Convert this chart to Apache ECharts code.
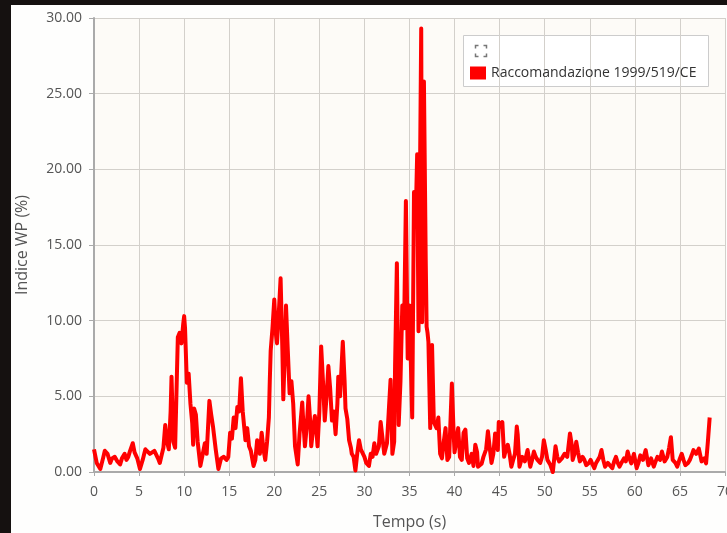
<!DOCTYPE html>
<html>
<head>
<meta charset="utf-8">
<script src="https://cdn.jsdelivr.net/npm/echarts@6/dist/echarts.min.js"></script>
<style>
html,body{margin:0;padding:0;background:#151110;width:727px;height:533px;overflow:hidden;}
#panel{position:absolute;left:11px;top:5px;width:716px;height:528px;background:#fefefd;}
#chart{position:absolute;left:0;top:0;width:727px;height:533px;}
</style>
</head>
<body>
<div id="panel"></div>
<div id="chart"></div>
<script>
// time (s)
const tempo = [0,0.3,0.7,1.0,1.2,1.5,1.8,2.0,2.3,2.6,2.9,3.1,3.4,3.6,3.8,4.0,4.3,4.5,4.8,5.1,5.4,5.7,5.9,6.2,6.4,6.7,6.9,7.1,7.3,7.5,7.7,7.9,8.1,8.3,8.5,8.6,8.8,9.0,9.2,9.3,9.5,9.7,9.9,10.0,10.1,10.3,10.5,10.7,10.9,11.0,11.1,11.3,11.5,11.8,12.0,12.3,12.5,12.8,13.0,13.2,13.5,13.8,14.1,14.4,14.7,14.9,15.1,15.3,15.5,15.7,15.9,16.1,16.3,16.5,16.8,17.0,17.2,17.4,17.7,17.9,18.1,18.2,18.4,18.6,18.8,19.0,19.2,19.4,19.5,19.6,19.8,20.0,20.2,20.3,20.5,20.7,20.9,21.0,21.2,21.3,21.5,21.7,21.9,22.1,22.3,22.6,22.8,23.1,23.2,23.4,23.6,23.8,24.0,24.1,24.3,24.5,24.7,24.8,25.0,25.2,25.4,25.6,25.8,26.0,26.2,26.4,26.6,26.8,27.0,27.1,27.3,27.6,27.8,27.9,28.1,28.3,28.5,28.6,28.8,29.0,29.2,29.4,29.6,29.8,30.0,30.2,30.5,30.7,30.9,31.1,31.3,31.6,31.8,32.0,32.2,32.5,32.7,32.9,33.1,33.3,33.4,33.6,33.8,34.0,34.2,34.4,34.6,34.8,35.0,35.2,35.3,35.5,35.7,35.85,36.0,36.1,36.3,36.4,36.5,36.6,36.8,36.9,37.0,37.1,37.3,37.5,37.6,37.7,38.0,38.2,38.4,38.6,38.8,39.0,39.2,39.4,39.7,39.9,40.0,40.2,40.4,40.6,40.8,41.0,41.2,41.4,41.6,41.9,42.1,42.3,42.5,42.6,43.0,43.2,43.5,43.7,43.9,44.1,44.3,44.5,44.7,44.8,44.9,45.1,45.3,45.5,45.7,45.9,46.1,46.3,46.5,46.7,46.9,47.0,47.2,47.5,47.8,48.1,48.4,48.6,48.8,49.0,49.2,49.5,49.7,49.9,50.1,50.3,50.6,50.9,51.2,51.4,51.6,51.9,52.2,52.5,52.8,53.0,53.1,53.3,53.5,53.7,53.9,54.2,54.4,54.6,54.9,55.1,55.3,55.5,55.7,55.9,56.1,56.3,56.5,56.7,57.0,57.2,57.5,57.7,57.9,58.1,58.3,58.6,58.8,59.0,59.2,59.4,59.6,59.9,60.2,60.4,60.6,60.9,61.2,61.5,61.8,62.1,62.3,62.5,62.8,63.0,63.3,63.6,63.8,64.0,64.2,64.5,64.7,65.0,65.2,65.4,65.6,65.9,66.1,66.3,66.5,66.8,67.1,67.4,67.7,67.9,68.1,68.3];
// Indice WP (%)
const indiceWP = [1.5,0.6,0.2,0.9,1.4,1.2,0.6,0.9,1.0,0.7,0.5,0.9,1.2,0.8,1.0,1.4,1.9,1.3,0.9,0.2,0.8,1.5,1.4,1.2,1.1,1.4,1.3,0.9,0.6,1.1,1.6,3.1,2.0,1.5,4.0,6.3,2.0,1.6,6.5,8.9,9.2,8.5,9.8,10.3,9.5,5.9,6.5,4.5,3.2,1.8,4.2,3.8,2.0,0.4,1.0,1.9,1.2,4.7,3.8,3.0,1.5,0.2,0.9,1.0,0.8,1.0,2.6,2.2,3.6,2.9,4.3,4.0,6.2,4.0,2.1,2.9,1.7,1.4,0.4,0.8,2.1,1.7,1.2,2.6,1.5,0.8,2.0,3.6,6.0,8.0,9.5,11.4,9.0,8.5,10.5,12.8,8.0,4.8,8.5,11.0,8.0,5.2,6.0,4.5,1.7,0.5,2.5,4.6,3.5,1.7,3.0,5.0,3.2,1.7,2.8,3.7,2.5,1.7,4.0,8.3,6.0,3.4,5.0,7.0,5.5,3.4,4.0,2.5,4.5,6.3,5.0,8.6,6.0,4.2,3.5,2.1,1.6,1.2,1.0,0.1,1.2,2.1,1.5,1.4,1.0,0.6,0.4,1.2,1.0,1.9,1.2,1.7,3.3,3.4,1.2,1.9,4.0,6.1,1.2,2.0,7.0,13.8,3.1,6.0,11.0,9.5,17.9,7.5,11.0,6.0,3.6,18.5,17.0,21.0,9.3,15.0,29.3,9.9,15.0,25.8,14.0,9.6,9.2,8.6,2.9,8.4,8.5,3.3,2.9,3.6,1.2,0.9,2.0,2.9,0.8,1.0,5.85,2.5,1.3,1.2,2.9,1.0,0.8,2.6,2.8,0.9,0.6,1.2,0.4,1.8,1.3,0.35,0.55,1.0,1.5,2.7,1.6,0.6,1.2,2.55,1.8,1.45,3.3,3.0,3.3,1.0,1.5,1.8,1.2,0.35,0.8,1.2,3.0,2.5,0.35,1.0,0.7,1.45,0.35,0.8,1.35,1.0,0.8,0.6,1.0,2.1,1.5,0.8,0.5,0.0,1.7,1.0,0.7,0.9,1.2,1.0,2.55,1.8,0.8,1.2,2.0,1.3,0.7,1.0,0.8,0.45,0.6,0.8,0.5,0.25,0.6,0.7,1.0,1.45,0.8,0.35,0.6,0.7,0.25,0.7,1.0,0.6,0.35,0.7,0.9,0.7,1.35,0.9,0.57,1.2,0.25,0.6,1.1,0.8,1.45,0.45,0.9,0.35,0.7,1.0,0.8,1.35,0.7,1.0,1.6,2.3,0.8,0.6,0.35,0.9,1.2,0.8,0.45,0.6,0.8,1.1,1.45,1.2,1.55,0.7,0.9,0.57,2.0,3.6];
const seriesName = 'Raccomandazione 1999/519/CE';
const xTicks = {min:0, max:70, interval:5};
const yTicks = {min:0, max:30, interval:5};

const chart = echarts.init(document.getElementById('chart'), null, {renderer:'canvas'});
const font = '"Open Sans", "DejaVu Sans", sans-serif';
const iconColor = '#777';
chart.setOption({
  backgroundColor: 'transparent',
  animation: false,
  textStyle: {fontFamily: font},
  grid: {left: 94, right: 2, top: 18, bottom: 61, containLabel: false, outerBoundsMode: 'none', show: true, backgroundColor: '#fdfbf7', borderWidth: 0},
  legend: {
    data: [{name: seriesName, icon: 'rect'}],
    left: 470, top: 66, padding: 0, itemWidth: 16, itemHeight: 13, itemGap: 0,
    textStyle: {color: '#333', fontSize: 14, fontFamily: font}
  },
  graphic: [
    {type: 'rect', left: 463, top: 35, shape: {width: 245, height: 51}, style: {fill: '#fff', stroke: '#ccc', lineWidth: 1}, z: 0},
    {type: 'group', left: 473, top: 43, z: 10, children: [
      {type: 'polyline', shape: {points: [[0,3],[0,0],[3,0]]}, style: {stroke: iconColor, lineWidth: 1.5, fill: null}},
      {type: 'polyline', shape: {points: [[8,0],[11,0],[11,3]]}, style: {stroke: iconColor, lineWidth: 1.5, fill: null}},
      {type: 'polyline', shape: {points: [[0,8],[0,11],[3,11]]}, style: {stroke: iconColor, lineWidth: 1.5, fill: null}},
      {type: 'polyline', shape: {points: [[8,11],[11,11],[11,8]]}, style: {stroke: iconColor, lineWidth: 1.5, fill: null}}
    ]}
  ],
  xAxis: {
    type: 'value', min: xTicks.min, max: xTicks.max, interval: xTicks.interval,
    name: 'Tempo (s)', nameLocation: 'middle', nameGap: 42,
    nameTextStyle: {color: '#555', fontSize: 16, fontFamily: font},
    axisLine: {show: true, lineStyle: {color: '#aaa', width: 2}},
    axisTick: {show: true, length: 4, lineStyle: {color: '#aaa'}},
    axisLabel: {color: '#555', fontSize: 14, margin: 13, showMaxLabel: true},
    splitLine: {show: true, lineStyle: {color: '#d3d0cb', width: 1}}
  },
  yAxis: {
    type: 'value', min: yTicks.min, max: yTicks.max, interval: yTicks.interval,
    name: 'Indice WP (%)', nameLocation: 'middle', nameGap: 64, nameRotate: 90,
    nameTextStyle: {color: '#555', fontSize: 16, fontFamily: font},
    axisLine: {show: true, lineStyle: {color: '#aaa', width: 2}},
    axisTick: {show: true, length: 5, lineStyle: {color: '#aaa'}},
    axisLabel: {color: '#555', fontSize: 14, margin: 12, formatter: v => v.toFixed(2)},
    splitLine: {show: true, lineStyle: {color: '#d3d0cb', width: 1}}
  },
  series: [{
    name: seriesName, type: 'line', showSymbol: false, symbol: 'none',
    data: tempo.map((t, i) => [t, indiceWP[i]]),
    itemStyle: {color: '#ff0000'},
    lineStyle: {color: '#ff0000', width: 4, join: 'round'}
  }]
});
</script>
</body>
</html>
